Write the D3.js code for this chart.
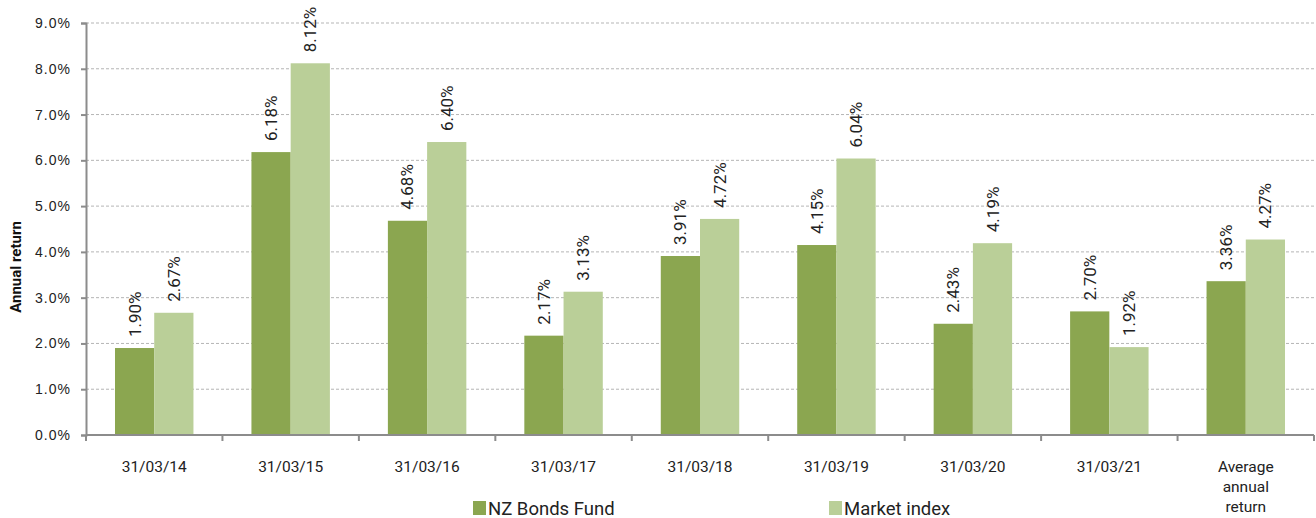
<!DOCTYPE html>
<html lang="en">
<head>
    <meta charset="UTF-8">
    <title>NZ Bonds Fund annual return</title>
    <script src="https://d3js.org/d3.v7.min.js"></script>
    <style>
        body { margin: 0; background: #fff; }
        svg { font-family: Roboto, "Noto Sans", sans-serif; }
        .grid line { stroke: #b5b5b5; stroke-dasharray: 3,2; }
        .axis path, .axis line { stroke: #8c8c8c; stroke-width: 2; }
        .axis text { fill: #222; }
        .ytick text { font-size: 14px; letter-spacing: 1px; }
        .cat { font-size: 15.5px; }
    </style>
</head>
<body>
<script>
    const categories = ["31/03/14", "31/03/15", "31/03/16", "31/03/17", "31/03/18",
                        "31/03/19", "31/03/20", "31/03/21", "Average annual return"];
    const seriesNames = ["NZ Bonds Fund", "Market index"];
    const fundValues = [1.90, 6.18, 4.68, 2.17, 3.91, 4.15, 2.43, 2.70, 3.36];
    const indexValues = [2.67, 8.12, 6.40, 3.13, 4.72, 6.04, 4.19, 1.92, 4.27];
    const yTicks = [0, 1, 2, 3, 4, 5, 6, 7, 8, 9];

    const width = 1316, height = 518;
    const plotLeft = 86, plotRight = 1314, plotTop = 23, plotBottom = 435;
    const colors = ["#8ba650", "#bacf98"];

    const svg = d3.select("body").append("svg")
        .attr("width", width)
        .attr("height", height);

    const x0 = d3.scaleBand()
        .domain(categories)
        .range([plotLeft, plotRight])
        .paddingInner(0)
        .paddingOuter(0);

    const x1 = d3.scaleBand()
        .domain(seriesNames)
        .range([0, x0.bandwidth() * 0.575])
        .padding(0);

    const y = d3.scaleLinear()
        .domain([0, 9])
        .range([plotBottom, plotTop]);

    // gridlines
    svg.append("g")
        .attr("class", "grid")
        .selectAll("line")
        .data(yTicks.filter(d => d > 0))
        .enter().append("line")
        .attr("x1", plotLeft)
        .attr("x2", plotRight)
        .attr("y1", d => y(d))
        .attr("y2", d => y(d));

    const rows = categories.map((c, i) => ({
        cat: c,
        vals: [{ key: seriesNames[0], value: fundValues[i] }, { key: seriesNames[1], value: indexValues[i] }]
    }));

    const groupOffset = (x0.bandwidth() - x1.range()[1]) / 2;

    const groups = svg.append("g")
        .selectAll("g")
        .data(rows)
        .enter().append("g")
        .attr("transform", d => `translate(${x0(d.cat) + groupOffset},0)`);

    groups.selectAll("rect")
        .data(d => d.vals)
        .enter().append("rect")
        .attr("x", d => x1(d.key))
        .attr("y", d => y(d.value))
        .attr("width", x1.bandwidth())
        .attr("height", d => plotBottom - y(d.value))
        .attr("fill", (d, i) => colors[i]);

    groups.selectAll("text.val")
        .data(d => d.vals)
        .enter().append("text")
        .attr("class", "val")
        .attr("transform", d => `translate(${x1(d.key) + x1.bandwidth() / 2 + 6},${y(d.value) - 11}) rotate(-90)`)
        .attr("text-anchor", "start")
        .attr("font-size", 17)
        .attr("fill", "#222")
        .text(d => d.value.toFixed(2) + "%");

    // y axis
    svg.append("g")
        .attr("class", "axis ytick")
        .attr("transform", `translate(${plotLeft},0)`)
        .call(d3.axisLeft(y).tickValues(yTicks).tickSize(5).tickPadding(10)
            .tickFormat(d => d.toFixed(1) + "%"));

    // x axis with ticks at category boundaries
    const xAxis = svg.append("g")
        .attr("class", "axis")
        .attr("transform", `translate(0,${plotBottom})`);
    xAxis.append("line")
        .attr("x1", plotLeft).attr("x2", plotRight)
        .attr("y1", 0).attr("y2", 0);
    xAxis.selectAll("line.tk")
        .data(categories.map(c => x0(c)).concat([plotRight]))
        .enter().append("line")
        .attr("class", "tk")
        .attr("x1", d => d).attr("x2", d => d)
        .attr("y1", 0).attr("y2", 6);

    const xLabels = xAxis.selectAll("text.cat")
        .data(categories)
        .enter().append("text")
        .attr("class", "cat")
        .attr("x", d => x0(d) + x0.bandwidth() / 2)
        .attr("y", 37)
        .attr("text-anchor", "middle");
    xLabels.each(function (d) {
        const t = d3.select(this);
        const words = d === "Average annual return" ? ["Average", "annual", "return"] : [d];
        words.forEach((w, i) => {
            t.append("tspan")
                .attr("x", x0(d) + x0.bandwidth() / 2)
                .attr("dy", i === 0 ? 0 : 20)
                .text(w);
        });
    });

    // y axis title
    svg.append("text")
        .attr("transform", `translate(21,${(plotTop + plotBottom) / 2 + 38}) rotate(-90)`)
        .attr("text-anchor", "middle")
        .attr("font-size", 15)
        .attr("font-weight", "bold")
        .attr("fill", "#111")
        .text("Annual return");

    // legend
    const legendX = [473, 829];
    seriesNames.forEach((name, i) => {
        const g = svg.append("g").attr("transform", `translate(${legendX[i]},501)`);
        g.append("rect")
            .attr("width", 13).attr("height", 14)
            .attr("fill", colors[i]);
        g.append("text")
            .attr("x", 15)
            .attr("y", 13.5)
            .attr("font-size", 18.5)
            .attr("fill", "#222")
            .text(name);
    });
</script>
</body>
</html>
